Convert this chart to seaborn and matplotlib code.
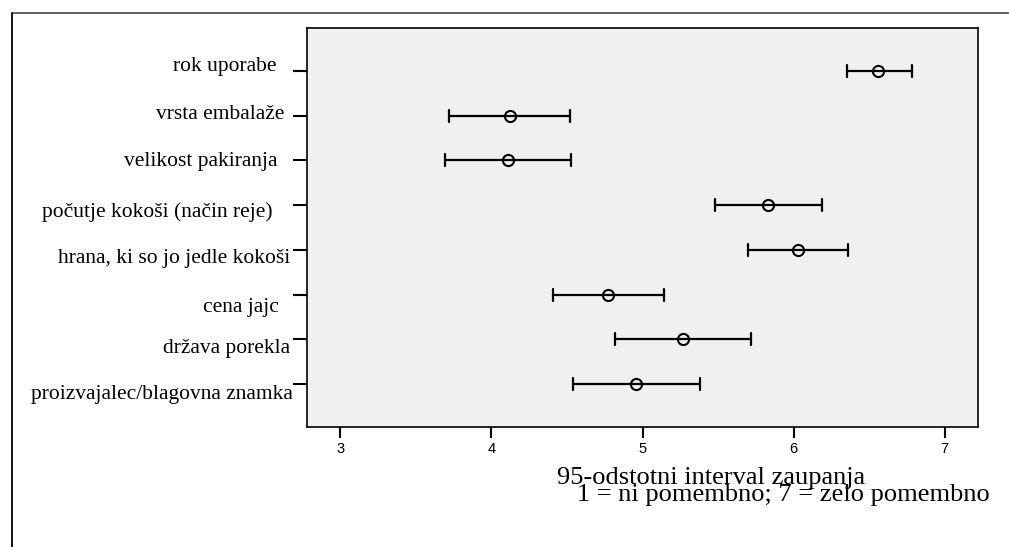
import matplotlib
matplotlib.use("Agg")
import matplotlib.pyplot as plt
from matplotlib.lines import Line2D
from matplotlib.transforms import ScaledTranslation
import pandas as pd
import seaborn as sns

# Importance ratings: mean and 95% confidence interval per item
categories = [
    "rok uporabe",
    "vrsta embalaže",
    "velikost pakiranja",
    "počutje kokoši (način reje)",
    "hrana, ki so jo jedle kokoši",
    "cena jajc",
    "država porekla",
    "proizvajalec/blagovna znamka",
]
means = [6.56, 4.12, 4.11, 5.83, 6.03, 4.77, 5.27, 4.96]
ci_low = [6.35, 3.72, 3.69, 5.48, 5.70, 4.41, 4.82, 4.54]
ci_high = [6.78, 4.52, 4.53, 6.19, 6.36, 5.14, 5.72, 5.38]
x_ticks = [3, 4, 5, 6, 7]
x_title = "95-odstotni interval zaupanja"
x_subtitle = "1 = ni pomembno; 7 = zelo pomembno"

# per-label nudges (pixels: right, down) for the item names
label_dx = [-17, -9, -16, -20, -3, -14, -3, 0]
label_dy = [-7, -3.5, -1.5, 4.5, 6.5, 10, 7, 7.5]

# long table: each item carries lower bound, mean and upper bound;
# median gives the mean, min/max give the interval ends
rows = []
for cat, lo, m, hi in zip(categories, ci_low, means, ci_high):
    for v in (lo, m, hi):
        rows.append({"item": cat, "value": v})
df = pd.DataFrame(rows)

sns.set_style("ticks")
W, H, DPI = 1009, 547, 100
fig = plt.figure(figsize=(W / DPI, H / DPI), dpi=DPI)
fig.patch.set_facecolor("white")
ax = fig.add_axes([307 / W, 1 - 427 / H, 671 / W, 399 / H])
ax.set_facecolor("#F0F0F0")

sns.pointplot(
    data=df, x="value", y="item", order=categories, orient="h",
    estimator="median", errorbar=lambda v: (v.min(), v.max()),
    color="black", linestyle="none", marker="o", markersize=8,
    markerfacecolor="none", markeredgecolor="black", markeredgewidth=1.5,
    capsize=0.27, err_kws={"linewidth": 1.6, "color": "black"}, ax=ax,
)

ax.set_xlim(2.78, 7.22)
ax.set_ylim(len(categories) - 1 + 0.96, -0.96)
ax.set_xticks(x_ticks)
ax.set_xticklabels([str(t) for t in x_ticks])
ax.set_xlabel("")
ax.set_ylabel("")
ax.grid(False)
for s in ax.spines.values():
    s.set_visible(True)
    s.set_color("black")
    s.set_linewidth(1.2)

ax.tick_params(axis="y", length=10, width=1.5, pad=0, labelsize=15.5,
               colors="black")
ax.tick_params(axis="x", length=8, width=1.5, pad=3, labelsize=10.5,
               colors="black")
for lbl in ax.get_xticklabels():
    lbl.set_fontfamily("Liberation Sans")
for lbl, dx, dy in zip(ax.get_yticklabels(), label_dx, label_dy):
    lbl.set_fontfamily("Liberation Serif")
    lbl.set_transform(lbl.get_transform()
                      + ScaledTranslation(dx / DPI, -dy / DPI, fig.dpi_scale_trans))

# two-line axis caption, second line indented
fig.text(557 / W, 1 - 467 / H, x_title + "\n   " + x_subtitle,
         ha="left", va="top", multialignment="left", linespacing=0.72,
         fontsize=19, fontfamily="Liberation Serif", color="black")

# outer frame (top and left edges)
fig.add_artist(Line2D([12 / W, 1.0], [1 - 13 / H, 1 - 13 / H],
                      transform=fig.transFigure, color="#555555", linewidth=1.3))
fig.add_artist(Line2D([11.5 / W, 11.5 / W], [0.0, 1 - 13 / H],
                      transform=fig.transFigure, color="black", linewidth=1.3))

fig.savefig("out.png", dpi=DPI, facecolor="white")
